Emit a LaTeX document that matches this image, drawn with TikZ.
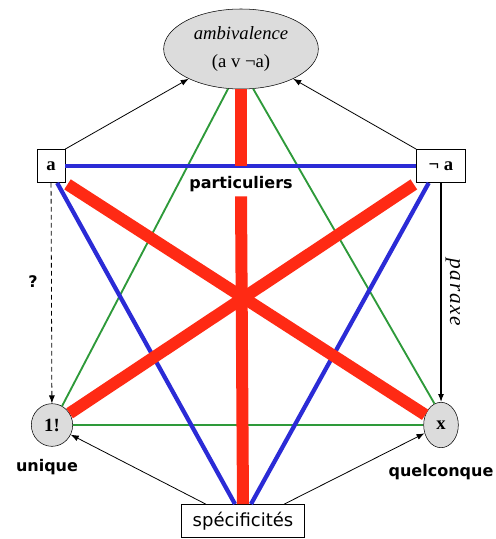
\documentclass[tikz,border=0pt]{standalone}
\usepackage{fontspec}
\setmainfont{Liberation Serif}
\setsansfont{DejaVu Sans}
\newfontfamily\paraxefont[LetterSpace=8]{Liberation Serif}
\usepackage{xcolor}
\definecolor{hexred}{HTML}{FF2A14}
\definecolor{hexblue}{HTML}{2B2BD6}
\definecolor{hexgreen}{HTML}{2E9A3A}
\definecolor{polegray}{HTML}{DCDCDC}
\usetikzlibrary{arrows.meta, shapes.geometric}
\tikzset{
    pole/.style = {ellipse, draw, thin, fill=polegray, inner sep=0pt,
                   font=\fontsize{14}{16}\selectfont\bfseries},
    term/.style = {rectangle, draw, thin, fill=white, inner sep=2pt,
                   minimum height=25pt, font=\fontsize{14}{16}\selectfont\bfseries},
    tag/.style = {font=\sffamily\bfseries\fontsize{12}{14}\selectfont},
    redline/.style = {line width=9pt, color=hexred},
    blueline/.style = {line width=3.2pt, color=hexblue},
    greenline/.style = {line width=1.4pt, color=hexgreen},
    arrow/.style = {-{Latex[length=6pt, width=4.5pt]}, line width=0.6pt},
}

\begin{document}
\begin{tikzpicture}[x=0.75pt, y=-0.75pt]
    \useasboundingbox (0,0) rectangle (496,539);
    % poles
    \node[pole, minimum width=116pt, minimum height=60pt, align=center,
          font=\fontsize{14}{21}\selectfont] (amb) at (241,49)
          {\textit{ambivalence}\\(a v ¬a)};
    \node[term, minimum width=21pt] (a) at (51,166) {a};
    \node[term, minimum width=37pt] (na) at (441,166) {¬ a};
    \node[pole, minimum width=31pt, minimum height=32pt] (one) at (52,425) {1!};
    \node[pole, minimum width=26pt, minimum height=34pt] (quel) at (441,425) {x};
    \node[term, minimum width=92pt, font=\sffamily\fontsize{13.5}{16}\selectfont]
          (spec) at (243,521) {spécificités};
    % labels
    \node[tag] (part) at (241,184) {particuliers};
    \node[tag] (unique) at (47,467) {unique};
    \node[tag] (quelc) at (441,472) {quelconque};
    \node[tag] (qmark) at (33,282) {?};
    % green frame
    \draw[greenline] (amb.-108) -- (one.62);
    \draw[greenline] (amb.-73) -- (quel.107);
    \draw[greenline] (one) -- (quel);
    % blue frame
    \draw[blueline] (a) -- (na);
    \draw[blueline] (a.-70) -- ([xshift=-6pt]spec.north);
    \draw[blueline] (na.-126) -- ([xshift=6pt]spec.north);
    % red cross
    \draw[redline] (amb.south) -- (amb.south |- a.center);
    \draw[redline] (part.south) -- (spec.north);
    \draw[redline, shorten <=2pt] (a.south east) -- (quel);
    \draw[redline, shorten <=2pt] (na.south west) -- (one);
    % arrows
    \draw[arrow] (a.north east) -- (amb);
    \draw[arrow] (na.north west) -- (amb);
    \draw[arrow] ([xshift=-28pt]spec.north) -- (one);
    \draw[arrow] ([xshift=31pt]spec.north) -- (quel);
    \draw[arrow, dash pattern=on 3.5pt off 2.5pt] (a) -- (one);
    \draw[arrow, line width=0.9pt] (na) -- (quel)
          node[midway, sloped, above, inner sep=3pt,
               font=\paraxefont\itshape\fontsize{16}{18}\selectfont] {paraxe};
\end{tikzpicture}
\end{document}
